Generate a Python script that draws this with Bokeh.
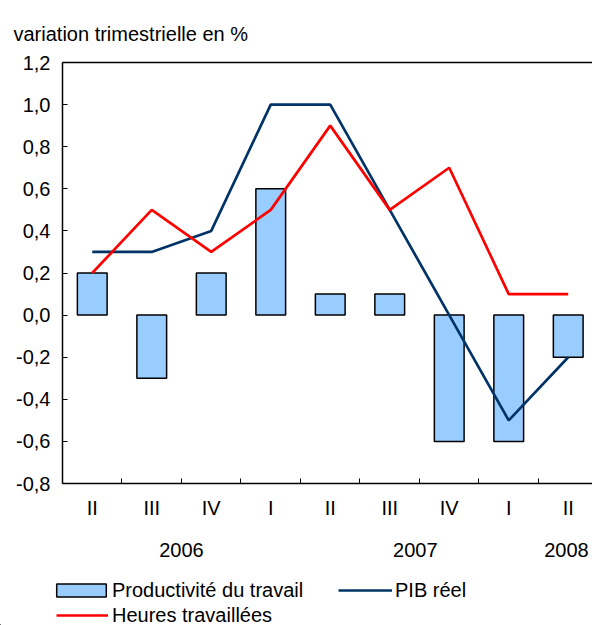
from bokeh.plotting import figure
from bokeh.layouts import column
from bokeh.models import (FixedTicker, LinearAxis, Range1d, Legend, LegendItem,
                          Title, CustomJSTickFormatter)
from bokeh.embed import file_html
from bokeh.resources import INLINE

quarters = ["II", "III", "IV", "I", "II", "III", "IV", "I", "II"]
years = ["2006", "2007", "2008"]
year_centers = [2.0, 5.93, 8.47]
productivite = [0.2, -0.3, 0.2, 0.6, 0.1, 0.1, -0.6, -0.6, -0.2]
pib_reel = [0.3, 0.3, 0.4, 1.0, 1.0, 0.5, 0.0, -0.5, -0.2]
heures = [0.2, 0.5, 0.3, 0.5, 0.9, 0.5, 0.7, 0.1, 0.1]
y_ticks = [-0.8, -0.6, -0.4, -0.2, 0.0, 0.2, 0.4, 0.6, 0.8, 1.0, 1.2]

FONT = "Liberation Sans"
FS = "20px"
BAR_FILL = "#99CCFF"
PIB_COLOR = "#003366"
H_COLOR = "#FF0000"
xs = [i + 0.5 for i in range(len(quarters))]

p = figure(width=592, height=563, x_range=Range1d(0, 8.908),
           y_range=Range1d(-0.8, 1.2), output_backend="svg",
           toolbar_location=None, title=None, x_axis_type=None, y_axis_type=None,
           min_border_left=62, min_border_right=0, min_border_top=62,
           min_border_bottom=80)
p.frame_align = False
p.outline_line_color = None
p.xgrid.visible = False
p.ygrid.visible = False
p.background_fill_color = "white"
p.border_fill_color = "white"

p.vbar(x=xs, top=productivite, bottom=0, width=0.5,
       fill_color=BAR_FILL, line_color="black", line_width=1.5)
p.line(x=xs, y=pib_reel, line_color=PIB_COLOR, line_width=2.7)
p.line(x=xs, y=heures, line_color=H_COLOR, line_width=2.7)

# y axis
yax = LinearAxis(ticker=FixedTicker(ticks=y_ticks, minor_ticks=[]),
                 formatter=CustomJSTickFormatter(code="return tick.toFixed(1).replace('.', ',')"))
yax.major_tick_in = 5
yax.major_tick_out = 0
yax.axis_line_color = "black"
yax.axis_line_width = 1.5
yax.major_label_text_font = FONT
yax.major_label_text_font_size = FS
yax.major_label_text_color = "black"
yax.major_label_standoff = 12
p.add_layout(yax, "left")

# top border axis
tax = LinearAxis(ticker=FixedTicker(ticks=[]), major_label_text_font_size="0px")
tax.axis_line_color = "black"
tax.axis_line_width = 1.5
tax.major_tick_line_color = None
tax.minor_tick_line_color = None
tax.major_tick_in = 0
tax.major_tick_out = 0
tax.minor_tick_in = 0
tax.minor_tick_out = 0
p.add_layout(tax, "above")

title = Title(text="variation trimestrielle en %", align="left", offset=-49,
              vertical_align="bottom",
              text_font=FONT, text_font_size=FS, text_font_style="normal",
              text_color="black", standoff=36)
p.add_layout(title, "above")

# quarter axis
xax = LinearAxis(ticker=FixedTicker(ticks=xs, minor_ticks=[1, 2, 3, 4, 5, 6, 7, 8]),
                 formatter=CustomJSTickFormatter(args=dict(labels=quarters),
                                                 code="return labels[index]"))
xax.major_tick_in = 0
xax.major_tick_out = 0
xax.minor_tick_in = 5
xax.minor_tick_out = 0
xax.axis_line_color = "black"
xax.axis_line_width = 1.5
xax.major_label_text_font = FONT
xax.major_label_text_font_size = FS
xax.major_label_text_color = "black"
xax.major_label_standoff = 13
p.add_layout(xax, "below")

# year axis
yrax = LinearAxis(ticker=FixedTicker(ticks=year_centers, minor_ticks=[]),
                  formatter=CustomJSTickFormatter(args=dict(labels=years),
                                                  code="return labels[index]"))
yrax.axis_line_color = None
yrax.major_tick_in = 0
yrax.major_tick_out = 0
yrax.major_label_text_font = FONT
yrax.major_label_text_font_size = FS
yrax.major_label_text_color = "black"
yrax.major_label_standoff = 21
p.add_layout(yrax, "below")

# legend strip (separate figure so the legend is not clipped by the chart frame);
# its renderers carry the same series but lie far outside its visible ranges
lp = figure(width=592, height=62, x_range=Range1d(500, 501), y_range=Range1d(500, 501),
            output_backend="svg", toolbar_location=None, title=None,
            x_axis_type=None, y_axis_type=None,
            min_border_left=0, min_border_right=0, min_border_top=0,
            min_border_bottom=0)
lp.frame_align = False
lp.outline_line_color = None
lp.xgrid.visible = False
lp.ygrid.visible = False
lp.border_fill_color = "white"
lp.background_fill_color = "white"

leg_bar = lp.vbar(x=xs, top=productivite, bottom=0, width=0.5, fill_color=BAR_FILL,
                  line_color="black", line_width=1.5)
leg_pib = lp.line(x=xs, y=pib_reel, line_color=PIB_COLOR, line_width=2.7)
leg_h = lp.line(x=xs, y=heures, line_color=H_COLOR, line_width=2.7)


def make_legend(label, renderer, loc, gw, gh, standoff):
    lg = Legend(items=[LegendItem(label=label, renderers=[renderer])],
                location=loc, orientation="vertical")
    lg.label_text_font = FONT
    lg.label_text_font_size = FS
    lg.label_text_color = "black"
    lg.glyph_width = gw
    lg.glyph_height = gh
    lg.label_standoff = standoff
    lg.label_height = 26
    lg.spacing = 0
    lg.padding = 0
    lg.margin = 0
    lg.border_line_color = None
    lg.background_fill_alpha = 0
    lp.add_layout(lg, "center")


make_legend("Productivité du travail", leg_bar, (50, 22), 62, 16, 0)
make_legend("PIB réel", leg_pib, (338, 22), 54, 16, 3)
make_legend("Heures travaillées", leg_h, (56, -3), 52, 16, 4)

layout = column(p, lp, spacing=0)
open("out.html", "w").write(file_html(layout, INLINE))
